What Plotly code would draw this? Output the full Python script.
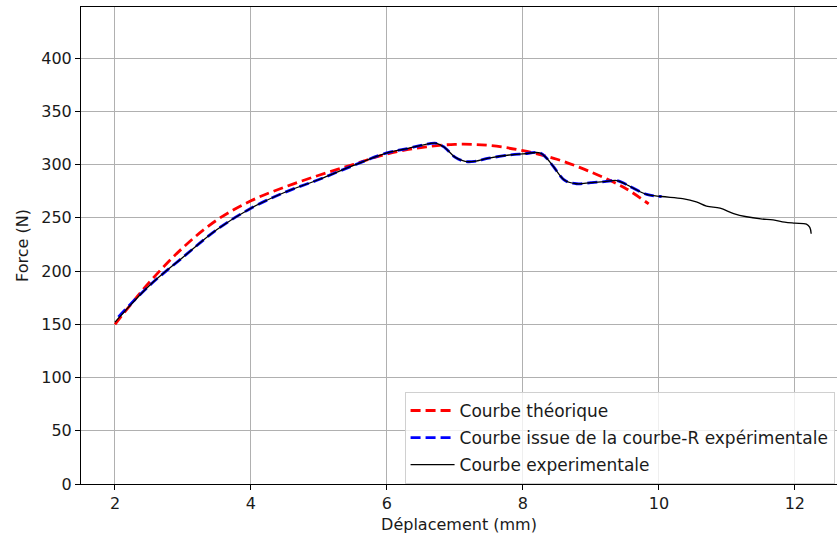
import plotly.graph_objects as go

# courbe théorique
x_theo = [2.0, 2.5, 3.0, 3.5, 4.0, 4.5, 5.0, 5.5, 6.0, 6.5, 7.0, 7.5, 8.0, 8.5, 9.0, 9.5, 9.85]
f_theo = [150, 189, 222, 248, 266, 279, 290, 300, 310, 316, 319, 318, 313, 305, 293, 278, 263]

# courbe experimentale
x_exp = [2.0, 2.5, 3.0, 3.5, 4.0, 4.5, 5.0, 5.5, 6.0, 6.3, 6.5, 6.73, 6.85, 7.0, 7.15, 7.29,
         7.5, 7.8, 8.0, 8.25, 8.35, 8.45, 8.62, 8.79, 9.0, 9.2, 9.38, 9.5, 9.62, 9.82, 10.04,
         10.35, 10.55, 10.7, 10.9, 11.1, 11.29, 11.5, 11.68, 11.85, 12.0, 12.17, 12.22, 12.24]
f_exp = [152, 186, 213, 239, 259, 274, 286, 299, 311, 315, 318, 320, 316, 307, 303, 303,
         306, 309, 310, 311, 306, 298, 285, 282, 283, 284, 285, 282, 278, 272, 270,
         268, 265, 261, 259, 254, 251, 249, 248, 246, 245, 244, 241, 235]

# courbe issue de la courbe-R (même tracé, s'arrête vers 10 mm)
x_r = [v for v in x_exp if 2.1 <= v <= 10.05]
f_r = [f for v, f in zip(x_exp, f_exp) if 2.1 <= v <= 10.05]

fig = go.Figure()
fig.add_trace(go.Scatter(x=x_theo, y=f_theo, mode="lines", name="Courbe théorique",
                         line=dict(color="red", width=2.8, dash="10px,5px", shape="spline"),
                         legendgroup="a"))
fig.add_trace(go.Scatter(x=[2.05] + x_r, y=[157] + f_r, mode="lines",
                         name="Courbe issue de la courbe-R expérimentale",
                         line=dict(color="blue", width=2.8, dash="10px,5px", shape="spline"),
                         legendgroup="b"))
fig.add_trace(go.Scatter(x=x_exp, y=f_exp, mode="lines", name="Courbe experimentale",
                         line=dict(color="black", width=1.3, shape="spline"),
                         legendgroup="c"))

fig.update_layout(
    width=837, height=543,
    margin=dict(l=81, r=0, t=7, b=59, autoexpand=False),
    plot_bgcolor="white", paper_bgcolor="white",
    font=dict(family="DejaVu Sans", size=16, color="#1a1a1a"),
    legend=dict(x=0.428, y=0.193, xanchor="left", yanchor="top",
                bgcolor="rgba(255,255,255,0.8)", bordercolor="#d0d0d0", borderwidth=1,
                tracegroupgap=2, itemwidth=44, font=dict(size=17)),
)
fig.update_xaxes(range=[1.5, 12.62], tickvals=[2, 4, 6, 8, 10, 12],
                 showgrid=True, gridcolor="#b0b0b0", gridwidth=0.8,
                 showline=True, linecolor="black", linewidth=1, mirror=True,
                 ticks="outside", ticklen=5, tickcolor="black",
                 title=dict(text="Déplacement (mm)", standoff=6, font=dict(size=16)),
                 zeroline=False)
fig.update_yaxes(range=[0, 448], tickvals=list(range(0, 401, 50)),
                 showgrid=True, gridcolor="#b0b0b0", gridwidth=0.8,
                 showline=True, linecolor="black", linewidth=1,
                 ticks="outside", ticklen=5, tickcolor="black",
                 title=dict(text="Force (N)", standoff=8, font=dict(size=16)),
                 zeroline=False)

# drop the default body margin so the figure sits at the window's top-left corner
fig.write_html("out.html", config={"displayModeBar": False},
               post_script="document.body.style.margin='0px';")
